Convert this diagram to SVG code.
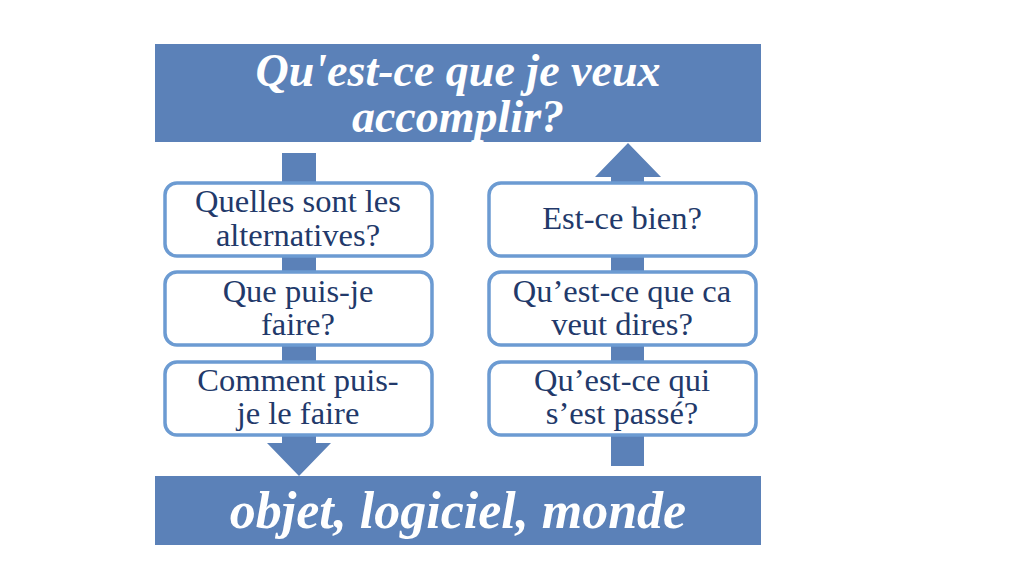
<svg xmlns="http://www.w3.org/2000/svg" width="1024" height="578" viewBox="0 0 1024 578">
<style>
.banner{fill:#5b81b8}
.flow{fill:#5b81b8}
.box{fill:#ffffff;stroke:#6c9bd2;stroke-width:3.5}
.t{font-family:"Liberation Serif","DejaVu Serif",serif;font-size:32.5px;fill:#22396a;text-anchor:middle}
.h{font-family:"Liberation Serif","DejaVu Serif",serif;font-weight:bold;font-style:italic;fill:#ffffff;text-anchor:middle}
</style>
<rect width="1024" height="578" fill="#ffffff"/>
<g id="connectors">
<path class="flow" d="M282,153 H316 V443 H331 L299,476 L267,443 H282 Z"/>
<path class="flow" d="M611,466 V177 H595 L628,143 L661,177 H644 V466 Z"/>
</g>
<g id="goal">
<rect class="banner" x="155" y="44" width="606" height="98"/>
<text class="h" font-size="46" x="458" y="86">Qu'est-ce que je veux</text>
<text class="h" font-size="46" x="458" y="132">accomplir?</text>
</g>
<g id="world">
<rect class="banner" x="155" y="476" width="606" height="69"/>
<text class="h" font-size="52" x="458" y="528">objet, logiciel, monde</text>
</g>
<g id="alternatives">
<rect class="box" x="165" y="183" width="267" height="73" rx="12"/>
<text class="t" x="298" y="212">Quelles sont les</text>
<text class="t" x="298" y="246">alternatives?</text>
</g>
<g id="que-puis-je">
<rect class="box" x="165" y="272" width="267" height="73" rx="12"/>
<text class="t" x="298" y="302">Que puis-je</text>
<text class="t" x="298" y="335">faire?</text>
</g>
<g id="comment">
<rect class="box" x="165" y="362" width="267" height="73" rx="12"/>
<text class="t" x="298" y="391">Comment puis-</text>
<text class="t" x="298" y="424">je le faire</text>
</g>
<g id="bien">
<rect class="box" x="489" y="183" width="267" height="73" rx="12"/>
<text class="t" x="622" y="229">Est-ce bien?</text>
</g>
<g id="dire">
<rect class="box" x="489" y="272" width="267" height="73" rx="12"/>
<text class="t" x="622" y="302">Qu’est-ce que ca</text>
<text class="t" x="622" y="335">veut dires?</text>
</g>
<g id="passe">
<rect class="box" x="489" y="362" width="267" height="73" rx="12"/>
<text class="t" x="622" y="391">Qu’est-ce qui</text>
<text class="t" x="622" y="424">s’est passé?</text>
</g>
</svg>
